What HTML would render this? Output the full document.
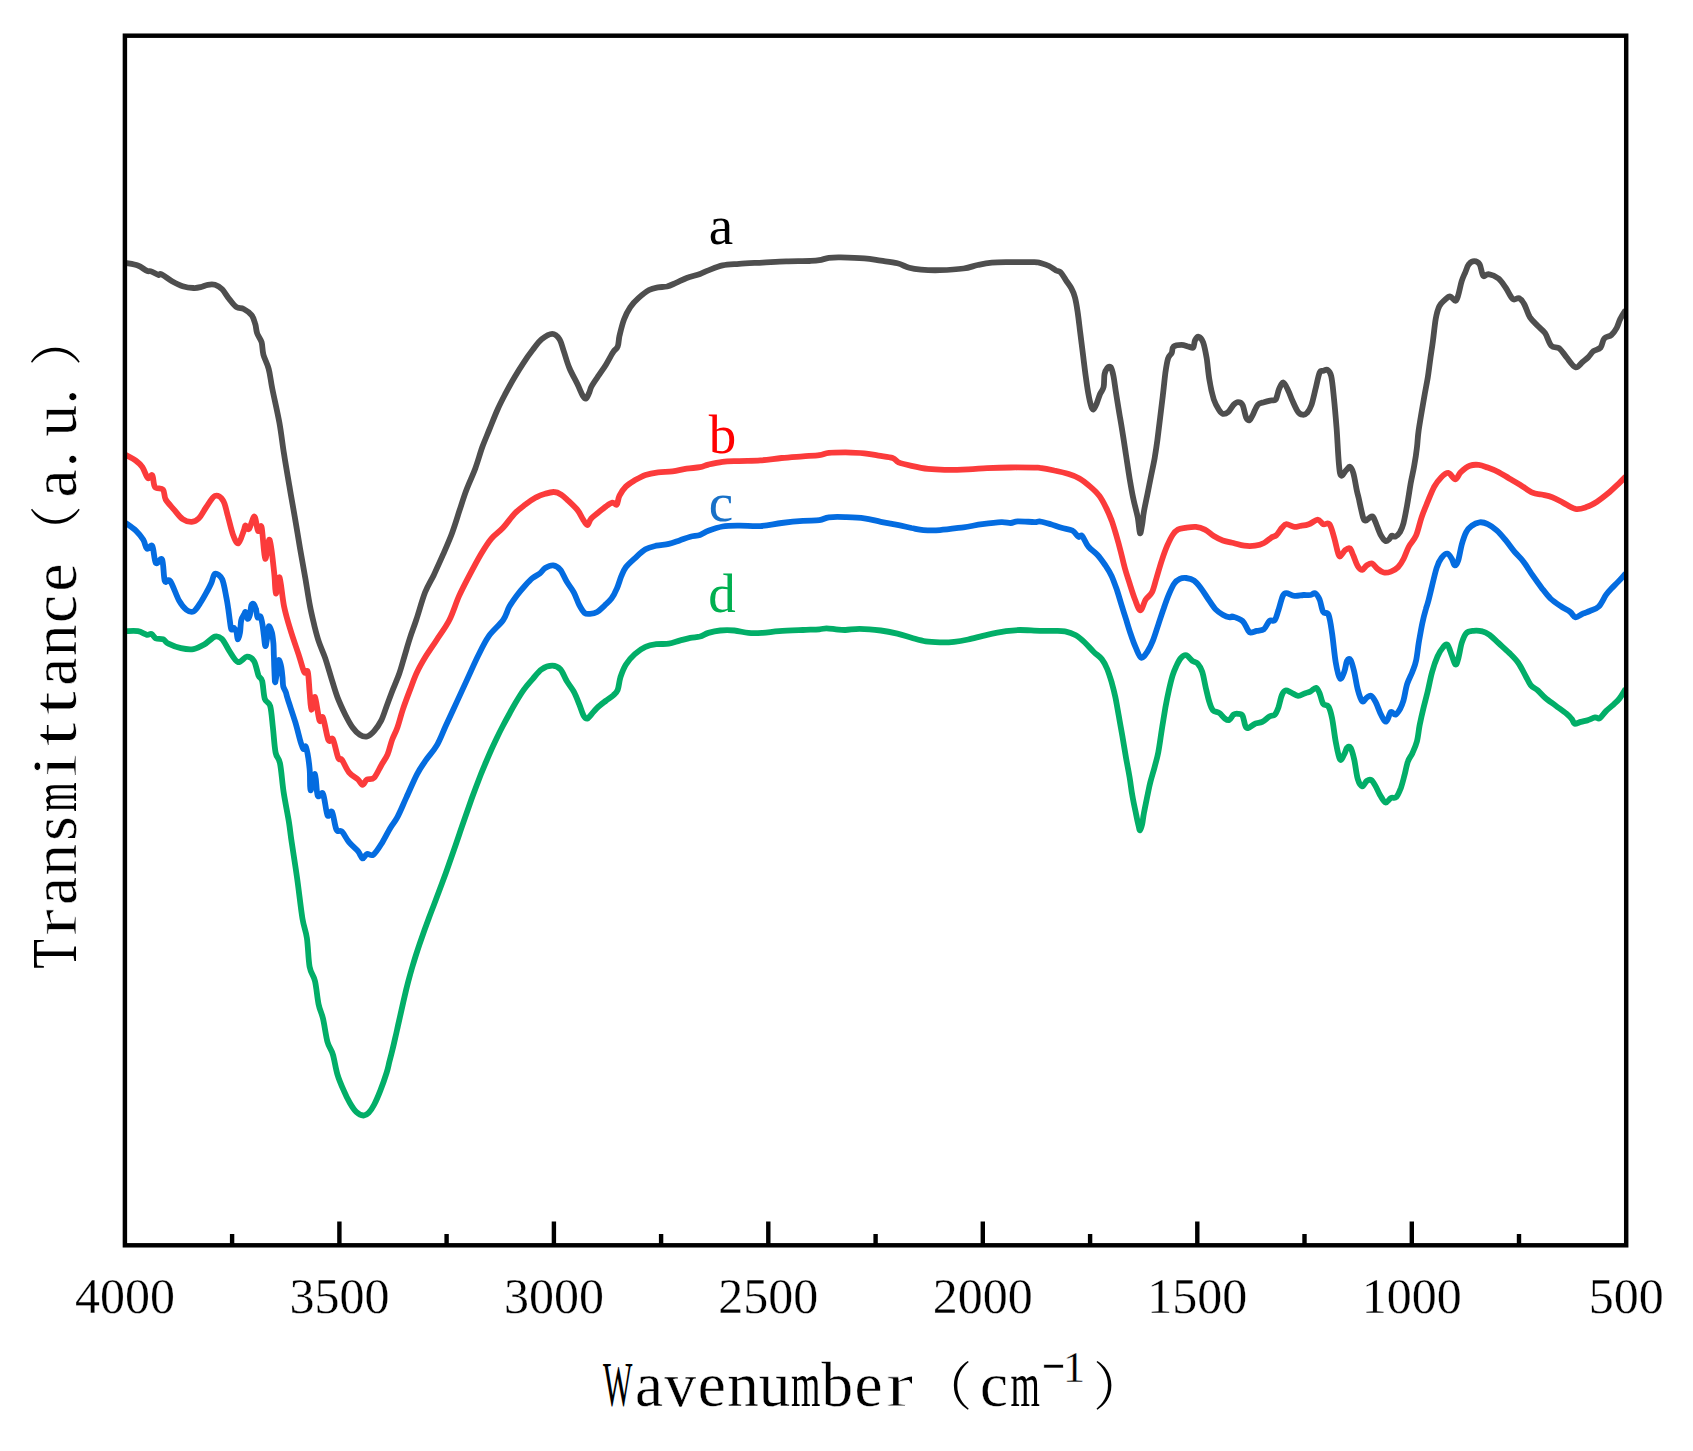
<!DOCTYPE html>
<html><head><meta charset="utf-8"><title>FTIR spectra</title>
<style>html,body{margin:0;padding:0;background:#fff}svg{display:block}</style></head>
<body>
<svg width="1693" height="1451" viewBox="0 0 1693 1451">
<rect width="1693" height="1451" fill="#fff"/>
<path d="M125.4 262.9 C127.5 263.4 134.3 264.3 137.9 265.6 C141.5 266.9 144.6 269.9 146.9 270.8 C149.1 271.8 149.4 270.7 151.4 271.4 C153.3 272.0 156.9 274.5 158.5 274.9 C160.2 275.4 159.0 273.0 161.2 274.1 C163.5 275.1 168.4 279.2 172.0 281.2 C175.6 283.2 179.1 285.1 182.7 286.2 C186.3 287.4 190.5 287.9 193.5 288.0 C196.5 288.2 198.3 287.7 200.6 287.1 C203.0 286.6 205.4 285.2 207.8 284.8 C210.2 284.4 212.6 284.1 215.0 284.8 C217.4 285.5 219.8 286.9 222.2 289.3 C224.5 291.7 226.9 296.2 229.3 299.1 C231.7 302.1 234.1 305.6 236.5 307.2 C238.9 308.8 241.1 307.7 243.7 309.0 C246.2 310.3 249.8 312.7 251.7 315.3 C253.7 317.8 254.4 321.2 255.3 324.2 C256.2 327.2 256.1 330.2 257.1 333.2 C258.1 336.2 260.5 338.6 261.6 342.2 C262.6 345.7 262.2 350.2 263.4 354.7 C264.6 359.2 267.3 363.4 268.7 369.0 C270.2 374.7 270.5 379.7 272.3 388.7 C274.1 397.8 277.6 412.5 279.5 423.3 C281.4 434.1 282.3 443.3 284.0 453.8 C285.6 464.2 287.6 475.6 289.4 486.0 C291.1 496.5 292.9 506.0 294.7 516.5 C296.5 526.9 298.3 538.3 300.1 548.7 C301.9 559.2 303.8 569.7 305.5 579.2 C307.1 588.8 308.5 598.3 310.0 606.1 C311.5 613.9 313.0 619.8 314.4 625.8 C315.9 631.8 317.1 636.6 318.9 641.9 C320.7 647.3 323.2 652.2 325.2 658.1 C327.2 664.0 329.1 670.8 331.1 677.3 C333.1 683.8 335.0 690.8 337.4 697.1 C339.8 703.3 342.9 709.9 345.4 715.0 C348.0 720.1 350.2 724.2 352.6 727.5 C355.0 730.8 357.4 733.2 359.8 734.7 C362.2 736.2 364.6 737.1 367.0 736.5 C369.3 735.9 371.7 733.8 374.1 731.1 C376.5 728.4 379.2 724.5 381.3 720.4 C383.4 716.2 384.9 710.8 386.7 706.0 C388.5 701.2 390.0 697.1 392.0 691.7 C394.1 686.3 397.1 679.7 399.2 673.8 C401.3 667.8 402.8 661.8 404.6 655.8 C406.4 649.9 408.0 643.9 410.0 637.9 C411.9 631.9 413.7 627.6 416.2 620.0 C418.8 612.4 422.1 599.9 425.1 592.3 C428.1 584.7 431.1 580.7 434.1 574.4 C437.0 568.1 440.0 561.6 443.0 554.7 C446.0 547.8 449.3 540.4 452.0 533.2 C454.7 526.0 456.8 518.9 459.1 511.7 C461.5 504.5 463.6 497.4 466.3 490.2 C469.0 483.0 472.6 475.6 475.3 468.4 C478.0 461.1 480.0 453.4 482.4 446.8 C484.8 440.3 487.1 435.2 489.6 428.9 C492.1 422.7 495.0 415.2 497.7 409.2 C500.4 403.2 502.9 398.5 505.7 393.1 C508.6 387.7 511.7 382.0 514.7 377.0 C517.7 371.9 520.7 367.1 523.7 362.6 C526.6 358.1 529.6 354.0 532.6 350.1 C535.6 346.2 538.3 342.0 541.6 339.3 C544.9 336.6 549.3 333.9 552.3 333.9 C555.3 333.9 557.6 336.3 559.5 339.3 C561.4 342.3 562.3 347.1 564.0 351.9 C565.6 356.6 567.1 362.6 569.4 368.0 C571.6 373.4 575.2 379.5 577.4 384.1 C579.7 388.8 581.4 393.4 582.8 395.8 C584.2 398.2 585.0 398.9 586.0 398.5 C587.1 398.0 588.1 395.2 589.1 393.1 C590.0 391.0 590.1 388.9 591.8 385.9 C593.4 382.9 596.5 378.7 598.9 375.2 C601.3 371.6 603.7 368.3 606.1 364.4 C608.5 360.5 611.3 354.9 613.3 351.9 C615.2 348.9 616.7 349.2 617.7 346.5 C618.8 343.8 618.5 340.2 619.5 335.7 C620.6 331.3 622.2 324.4 624.0 319.6 C625.8 314.8 627.9 310.6 630.3 307.1 C632.7 303.5 635.2 300.9 638.4 298.1 C641.5 295.3 645.8 291.8 649.1 290.0 C652.4 288.2 655.1 287.9 658.1 287.3 C661.1 286.8 664.0 287.2 667.0 286.5 C670.0 285.7 672.7 284.3 676.0 282.9 C679.3 281.5 682.7 279.5 686.7 278.0 C690.7 276.5 696.4 275.2 700.0 273.9 C703.6 272.6 704.6 271.8 708.4 270.4 C712.1 269.0 717.4 266.5 722.5 265.4 C727.6 264.3 732.4 264.3 739.1 263.8 C745.8 263.3 754.8 263.0 762.7 262.6 C770.6 262.2 778.4 261.7 786.3 261.4 C794.2 261.2 804.4 261.2 809.9 261.0 C815.5 260.8 816.2 260.8 819.4 260.2 C822.5 259.7 825.3 258.4 828.8 257.9 C832.4 257.4 834.8 257.3 840.7 257.4 C846.6 257.5 857.6 257.8 864.3 258.4 C871.0 258.9 875.3 259.9 880.8 260.7 C886.3 261.5 892.6 262.1 897.4 263.3 C902.1 264.5 905.2 266.7 909.2 267.8 C913.1 268.9 915.9 269.3 921.0 269.7 C926.1 270.1 932.8 270.4 939.9 270.2 C947.0 270.0 957.2 269.4 963.5 268.5 C969.8 267.7 973.0 266.0 977.7 265.0 C982.4 264.0 986.4 263.1 991.9 262.6 C997.4 262.1 1003.7 262.2 1010.8 262.1 C1017.9 262.1 1029.5 262.0 1034.4 262.1 C1039.3 262.3 1037.6 262.3 1040.0 262.9 C1042.4 263.6 1046.3 264.7 1049.0 266.0 C1051.6 267.2 1054.2 269.4 1056.1 270.5 C1058.1 271.5 1059.0 270.6 1060.6 272.3 C1062.3 273.9 1064.2 277.6 1066.0 280.3 C1067.8 283.0 1069.9 285.5 1071.4 288.4 C1072.9 291.2 1073.9 293.5 1074.9 297.3 C1076.0 301.2 1076.7 305.7 1077.6 311.7 C1078.5 317.7 1079.4 326.0 1080.3 333.2 C1081.2 340.4 1082.1 347.5 1083.0 354.7 C1083.9 361.9 1084.8 369.6 1085.7 376.2 C1086.6 382.8 1087.5 389.2 1088.4 394.1 C1089.3 399.1 1090.2 403.2 1091.1 405.8 C1091.9 408.3 1092.5 409.7 1093.4 409.4 C1094.3 409.1 1095.3 406.5 1096.5 404.0 C1097.6 401.4 1098.8 397.0 1100.0 394.1 C1101.2 391.3 1102.9 390.2 1103.6 387.0 C1104.4 383.7 1103.9 377.5 1104.5 374.4 C1105.1 371.3 1106.2 369.3 1107.2 368.1 C1108.2 366.9 1109.7 365.9 1110.8 367.2 C1111.8 368.6 1112.6 371.7 1113.5 376.2 C1114.4 380.7 1115.1 387.6 1116.2 394.1 C1117.2 400.7 1118.7 409.4 1119.7 415.6 C1120.8 421.9 1121.4 425.2 1122.4 431.8 C1123.5 438.3 1124.8 447.3 1126.0 455.1 C1127.2 462.8 1128.4 471.2 1129.6 478.4 C1130.8 485.5 1131.8 491.6 1133.2 498.1 C1134.5 504.5 1136.5 511.2 1137.7 517.1 C1138.8 522.9 1139.3 532.0 1140.0 533.2 C1140.7 534.4 1141.5 527.8 1142.2 524.2 C1142.8 520.6 1143.0 516.8 1143.9 511.7 C1144.8 506.6 1146.3 499.7 1147.5 493.8 C1148.7 487.8 1149.9 481.8 1151.1 475.8 C1152.3 469.9 1153.6 463.9 1154.7 457.9 C1155.7 451.9 1156.0 450.3 1157.4 440.0 C1158.7 429.7 1161.4 407.1 1162.8 395.9 C1164.1 384.7 1164.6 378.9 1165.4 372.6 C1166.3 366.3 1167.1 361.6 1168.1 358.3 C1169.2 355.0 1170.8 354.8 1171.7 352.9 C1172.6 351.0 1171.9 348.0 1173.5 346.6 C1175.2 345.3 1179.0 344.8 1181.6 344.8 C1184.1 344.8 1186.8 346.2 1188.7 346.6 C1190.7 347.1 1192.2 348.6 1193.2 347.5 C1194.3 346.5 1194.1 342.2 1195.0 340.4 C1195.9 338.6 1197.3 336.5 1198.6 336.8 C1199.9 337.1 1201.7 338.6 1203.1 342.2 C1204.4 345.7 1205.6 352.0 1206.7 358.3 C1207.7 364.6 1208.2 372.9 1209.4 379.8 C1210.5 386.7 1212.2 394.4 1213.8 399.5 C1215.5 404.6 1217.7 407.9 1219.2 410.3 C1220.7 412.6 1221.3 413.5 1222.8 413.8 C1224.3 414.1 1226.4 413.5 1228.2 412.0 C1230.0 410.5 1231.9 406.5 1233.5 404.9 C1235.2 403.2 1236.5 402.2 1238.0 402.2 C1239.5 402.2 1241.2 402.3 1242.5 404.9 C1243.9 407.4 1244.9 414.9 1246.1 417.4 C1247.3 420.0 1248.5 420.7 1249.7 420.1 C1250.9 419.5 1251.9 416.4 1253.3 413.8 C1254.6 411.3 1255.9 406.8 1257.7 404.9 C1259.5 402.9 1261.8 402.9 1264.0 402.2 C1266.3 401.4 1269.2 400.8 1271.2 400.4 C1273.1 399.9 1274.3 401.4 1275.7 399.5 C1277.0 397.6 1278.0 391.6 1279.2 388.7 C1280.5 385.9 1281.9 382.2 1283.4 382.5 C1284.9 382.8 1286.7 387.4 1288.2 390.5 C1289.8 393.7 1291.0 397.7 1292.7 401.3 C1294.3 404.9 1296.4 409.8 1298.1 412.0 C1299.7 414.3 1301.1 414.6 1302.5 414.7 C1304.0 414.9 1305.5 414.6 1307.0 412.9 C1308.5 411.3 1310.0 409.2 1311.5 404.9 C1313.0 400.5 1314.6 392.3 1316.0 387.0 C1317.3 381.6 1318.4 375.3 1319.6 372.6 C1320.8 369.9 1321.8 371.3 1323.2 370.8 C1324.5 370.4 1326.3 369.0 1327.6 369.9 C1329.0 370.8 1330.2 371.6 1331.2 376.2 C1332.3 380.8 1333.0 389.0 1333.9 397.7 C1334.8 406.4 1335.6 415.6 1336.6 428.2 C1337.6 440.7 1338.4 466.0 1340.0 473.0 C1341.6 480.0 1344.5 471.3 1346.1 470.3 C1347.7 469.2 1348.5 466.3 1349.7 466.7 C1350.9 467.2 1352.1 468.9 1353.3 473.0 C1354.5 477.0 1356.0 486.7 1356.9 490.9 C1357.8 495.1 1357.6 493.6 1358.7 498.1 C1359.7 502.6 1362.0 514.1 1363.2 517.8 C1364.3 521.6 1364.8 520.5 1365.8 520.5 C1366.9 520.5 1368.2 518.4 1369.4 517.8 C1370.6 517.2 1371.8 515.7 1373.0 516.9 C1374.2 518.1 1375.3 521.8 1376.6 525.0 C1377.9 528.1 1379.6 533.0 1381.1 535.7 C1382.6 538.4 1384.2 540.5 1385.6 541.1 C1386.9 541.7 1388.1 540.2 1389.1 539.3 C1390.2 538.4 1390.8 536.2 1391.8 535.7 C1392.9 535.3 1394.1 537.2 1395.4 536.6 C1396.8 536.0 1398.5 534.4 1399.9 532.2 C1401.2 529.9 1402.3 527.7 1403.5 523.2 C1404.7 518.7 1405.9 511.8 1407.1 505.3 C1408.3 498.7 1409.5 490.3 1410.6 483.8 C1411.8 477.2 1413.2 471.8 1414.2 465.8 C1415.3 459.9 1416.2 453.9 1416.9 447.9 C1417.7 441.9 1417.5 438.4 1418.7 430.0 C1419.9 421.6 1422.6 406.4 1424.1 397.7 C1425.6 389.0 1426.6 384.6 1427.7 378.0 C1428.7 371.4 1429.5 364.6 1430.4 358.3 C1431.3 352.0 1432.2 346.9 1433.0 340.4 C1433.9 333.8 1434.7 324.5 1435.7 318.9 C1436.8 313.2 1437.8 309.4 1439.3 306.3 C1440.8 303.2 1442.9 301.7 1444.7 300.0 C1446.5 298.4 1448.3 296.3 1450.1 296.5 C1451.9 296.6 1454.1 301.1 1455.4 300.9 C1456.8 300.8 1457.1 298.8 1458.1 295.6 C1459.2 292.3 1460.5 285.1 1461.7 281.2 C1462.9 277.3 1464.1 275.1 1465.3 272.3 C1466.5 269.4 1467.4 266.0 1468.9 264.2 C1470.4 262.3 1472.5 261.1 1474.3 261.1 C1476.1 261.1 1478.1 261.7 1479.6 264.2 C1481.1 266.6 1481.7 274.2 1483.2 275.8 C1484.7 277.5 1486.1 273.6 1488.6 274.1 C1491.1 274.5 1495.6 276.3 1498.5 278.5 C1501.3 280.8 1503.2 284.1 1505.6 287.5 C1508.0 290.9 1510.6 297.3 1512.8 299.1 C1515.0 300.9 1517.1 297.3 1519.1 298.2 C1521.0 299.1 1522.7 301.4 1524.4 304.5 C1526.2 307.7 1527.6 313.5 1529.8 317.1 C1532.1 320.6 1535.3 323.3 1537.9 326.0 C1540.4 328.7 1542.8 329.9 1545.1 333.2 C1547.3 336.5 1548.9 343.2 1551.3 345.7 C1553.7 348.3 1556.9 346.5 1559.4 348.4 C1561.9 350.4 1563.9 354.2 1566.6 357.4 C1569.2 360.5 1572.8 366.5 1575.5 367.2 C1578.2 368.0 1580.6 363.5 1582.7 361.9 C1584.8 360.2 1586.3 359.2 1588.1 357.4 C1589.9 355.6 1591.4 352.8 1593.4 351.1 C1595.5 349.5 1598.8 349.6 1600.6 347.5 C1602.4 345.4 1602.4 340.7 1604.2 338.6 C1606.0 336.5 1609.3 336.8 1611.4 335.0 C1613.5 333.2 1615.2 330.5 1616.7 327.8 C1618.2 325.1 1618.8 321.8 1620.3 318.9 C1621.8 315.9 1624.8 311.4 1625.7 309.9" fill="none" stroke="#4E4E4E" stroke-width="5.8" stroke-linejoin="round" stroke-linecap="butt"/>
<path d="M125.4 454.7 C127.2 455.7 133.3 458.8 136.1 460.9 C139.0 463.0 140.5 464.4 142.4 467.2 C144.3 470.0 146.1 476.6 147.8 478.0 C149.4 479.3 151.1 473.8 152.3 475.3 C153.5 476.8 153.2 484.5 154.9 486.9 C156.7 489.3 161.2 487.5 163.0 489.6 C164.8 491.7 163.9 496.2 165.7 499.5 C167.5 502.7 170.9 506.0 173.8 509.3 C176.6 512.6 179.7 517.1 182.7 519.2 C185.7 521.3 189.0 522.0 191.7 521.9 C194.4 521.7 196.5 520.7 198.9 518.3 C201.2 515.9 203.3 511.3 206.0 507.5 C208.7 503.8 212.1 497.1 215.0 495.9 C217.8 494.7 221.0 497.2 223.0 500.4 C225.1 503.5 225.9 509.0 227.5 514.7 C229.2 520.4 231.1 529.6 232.9 534.4 C234.7 539.2 236.5 544.0 238.3 543.4 C240.1 542.8 242.5 533.8 243.7 530.8 C244.9 527.8 244.6 525.7 245.4 525.4 C246.3 525.1 247.5 530.5 249.0 529.0 C250.5 527.5 252.9 516.2 254.4 516.5 C255.9 516.8 256.8 529.0 258.0 530.8 C259.2 532.6 260.4 522.6 261.6 527.2 C262.8 531.9 263.8 556.5 265.2 558.6 C266.5 560.7 268.1 537.5 269.6 539.8 C271.1 542.0 273.1 563.1 274.1 572.0 C275.2 581.0 275.0 592.7 275.9 593.5 C276.8 594.4 278.2 575.3 279.5 577.4 C280.8 579.5 282.2 597.4 284.0 606.1 C285.8 614.8 287.7 621.0 290.3 629.4 C292.8 637.8 296.9 649.2 299.2 656.3 C301.5 663.4 302.8 669.4 304.2 672.0 C305.7 674.6 306.9 668.7 307.8 672.0 C308.7 675.3 309.0 685.4 309.6 691.7 C310.2 698.0 310.5 708.7 311.4 709.6 C312.3 710.5 313.6 695.3 315.0 697.1 C316.3 698.9 318.1 716.9 319.5 720.4 C320.8 723.8 321.6 714.4 323.0 717.7 C324.5 721.0 326.8 736.5 328.4 740.1 C330.1 743.7 331.3 736.2 332.9 739.2 C334.5 742.2 336.8 754.6 338.3 758.0 C339.8 761.4 340.1 757.4 341.9 759.8 C343.7 762.2 346.3 769.0 349.0 772.3 C351.7 775.6 355.8 777.4 358.0 779.5 C360.2 781.6 361.0 784.9 362.5 784.9 C364.0 784.9 365.0 780.7 367.0 779.5 C368.9 778.3 371.7 780.1 374.1 777.7 C376.5 775.3 379.1 769.0 381.3 765.2 C383.5 761.3 385.8 758.6 387.6 754.4 C389.4 750.2 390.4 744.6 392.0 740.1 C393.7 735.6 395.6 732.6 397.4 727.5 C399.2 722.4 400.7 715.9 402.8 709.6 C404.9 703.3 407.6 696.2 410.0 689.9 C412.4 683.6 414.4 677.6 417.1 672.0 C419.8 666.3 422.8 661.2 426.1 655.8 C429.4 650.5 433.0 645.7 436.8 639.7 C440.7 633.7 445.7 627.3 449.4 620.0 C453.1 612.7 455.7 603.5 459.1 595.9 C462.6 588.3 466.3 581.3 469.9 574.4 C473.5 567.5 477.1 560.7 480.6 554.7 C484.2 548.7 487.7 543.0 491.4 538.6 C495.1 534.1 499.2 532.0 503.0 527.8 C506.9 523.6 511.0 517.4 514.7 513.5 C518.4 509.6 521.9 507.2 525.4 504.5 C529.0 501.8 532.9 499.1 536.2 497.3 C539.5 495.6 542.2 494.7 545.2 493.8 C548.1 492.9 551.4 491.8 554.1 492.0 C556.8 492.1 558.9 493.2 561.3 494.7 C563.7 496.2 565.8 498.4 568.5 500.9 C571.1 503.5 575.0 506.9 577.4 509.9 C579.8 512.9 581.2 516.3 582.8 518.9 C584.4 521.4 585.9 525.1 587.3 525.1 C588.6 525.1 589.2 520.8 590.9 518.9 C592.5 516.9 594.6 515.6 597.1 513.5 C599.7 511.4 603.6 508.1 606.1 506.3 C608.6 504.5 610.6 503.0 612.4 502.7 C614.2 502.4 615.7 505.7 616.8 504.5 C618.0 503.3 618.0 498.5 619.5 495.6 C621.0 492.6 623.3 489.1 625.8 486.6 C628.3 484.1 631.5 482.3 634.8 480.3 C638.1 478.4 641.6 476.3 645.5 474.9 C649.4 473.6 653.6 472.9 658.1 472.3 C662.5 471.7 667.6 472.0 672.4 471.4 C677.2 470.8 682.1 469.4 686.7 468.7 C691.3 468.0 696.4 467.9 700.0 467.2 C703.6 466.6 704.6 465.5 708.4 464.6 C712.1 463.7 717.4 462.4 722.5 461.8 C727.6 461.2 732.8 461.3 739.1 461.1 C745.4 460.8 753.2 460.9 760.3 460.4 C767.4 459.9 774.5 458.7 781.6 458.0 C788.7 457.3 796.6 456.8 802.9 456.3 C809.2 455.9 815.1 455.8 819.4 455.2 C823.7 454.6 824.5 453.3 828.8 452.8 C833.2 452.3 839.5 452.3 845.4 452.3 C851.3 452.4 858.8 452.7 864.3 453.3 C869.8 453.8 873.7 454.9 878.5 455.6 C883.2 456.4 889.3 456.9 892.6 458.0 C896.0 459.1 895.4 461.0 898.5 462.3 C901.7 463.6 906.6 464.7 911.5 465.8 C916.5 466.9 922.6 468.2 928.1 468.9 C933.6 469.5 937.9 469.7 944.6 469.8 C951.3 469.9 961.2 469.6 968.2 469.3 C975.3 469.1 980.1 468.5 987.1 468.2 C994.2 467.8 1002.9 467.5 1010.8 467.5 C1018.6 467.4 1029.5 467.6 1034.4 467.7 C1039.3 467.7 1036.7 467.3 1040.0 467.8 C1043.3 468.2 1049.6 469.4 1054.3 470.5 C1059.1 471.5 1064.5 472.7 1068.7 474.1 C1072.9 475.4 1075.8 476.4 1079.4 478.5 C1083.0 480.6 1086.9 483.8 1090.2 486.6 C1093.5 489.4 1096.5 492.0 1099.1 495.6 C1101.8 499.1 1104.2 503.9 1106.3 508.1 C1108.4 512.3 1110.0 516.2 1111.7 520.6 C1113.3 525.1 1114.7 529.9 1116.2 535.0 C1117.7 540.1 1119.2 545.4 1120.6 551.1 C1122.1 556.8 1123.6 563.7 1125.1 569.0 C1126.6 574.4 1128.0 578.3 1129.6 583.4 C1131.2 588.4 1133.2 595.0 1135.0 599.5 C1136.8 604.0 1138.6 610.3 1140.4 610.3 C1142.2 610.3 1143.8 602.5 1145.7 599.5 C1147.7 596.5 1150.2 595.9 1152.0 592.3 C1153.8 588.7 1154.8 583.4 1156.5 578.0 C1158.1 572.6 1160.1 565.4 1161.9 560.1 C1163.7 554.7 1165.4 549.9 1167.2 545.7 C1169.0 541.6 1170.8 537.7 1172.6 535.0 C1174.4 532.3 1175.9 530.8 1178.0 529.6 C1180.1 528.4 1182.2 528.3 1185.2 527.8 C1188.1 527.4 1192.6 526.6 1195.9 526.9 C1199.2 527.2 1201.9 528.1 1204.9 529.6 C1207.9 531.1 1210.8 534.1 1213.8 535.9 C1216.8 537.7 1219.5 539.2 1222.8 540.4 C1226.1 541.6 1230.0 542.2 1233.5 543.0 C1237.1 543.9 1240.7 545.3 1244.3 545.7 C1247.9 546.2 1251.8 546.2 1255.1 545.7 C1258.3 545.3 1261.3 544.4 1264.0 543.0 C1266.7 541.7 1269.1 539.0 1271.2 537.7 C1273.3 536.3 1274.8 536.6 1276.6 535.0 C1278.4 533.3 1280.3 529.6 1281.9 527.8 C1283.6 526.0 1284.3 524.4 1286.4 524.2 C1288.5 524.1 1292.2 526.6 1294.5 526.9 C1296.7 527.2 1297.5 526.5 1299.9 526.0 C1302.2 525.6 1305.8 525.3 1308.8 524.2 C1311.8 523.2 1315.4 519.7 1317.8 519.7 C1320.2 519.7 1321.2 523.5 1323.2 524.2 C1325.1 525.0 1327.6 522.1 1329.4 524.2 C1331.2 526.3 1332.6 532.3 1333.9 536.8 C1335.3 541.3 1336.5 547.8 1337.5 551.1 C1338.5 554.4 1338.7 556.7 1340.0 556.5 C1341.3 556.3 1343.6 551.4 1345.2 550.1 C1346.9 548.7 1348.4 547.4 1349.7 548.3 C1351.1 549.2 1352.0 552.5 1353.3 555.4 C1354.6 558.4 1356.3 563.8 1357.8 566.2 C1359.3 568.6 1360.8 569.9 1362.3 569.8 C1363.8 569.6 1365.1 566.4 1366.7 565.3 C1368.4 564.3 1370.3 562.9 1372.1 563.5 C1373.9 564.1 1375.5 567.4 1377.5 568.9 C1379.4 570.4 1381.5 572.0 1383.8 572.5 C1386.0 572.9 1388.5 572.5 1390.9 571.6 C1393.3 570.7 1396.0 569.2 1398.1 567.1 C1400.2 565.0 1401.7 562.5 1403.5 559.0 C1405.3 555.6 1406.8 550.4 1408.9 546.5 C1410.9 542.6 1413.9 540.5 1416.0 535.7 C1418.1 531.0 1419.5 523.5 1421.4 517.8 C1423.3 512.1 1425.6 506.8 1427.7 501.7 C1429.8 496.6 1431.7 491.4 1433.9 487.3 C1436.2 483.3 1438.7 479.9 1441.1 477.5 C1443.5 475.1 1445.9 472.7 1448.3 473.0 C1450.7 473.3 1453.4 479.4 1455.4 479.3 C1457.5 479.1 1458.4 474.4 1460.8 472.1 C1463.2 469.9 1466.8 467.0 1469.8 465.8 C1472.8 464.6 1475.8 464.6 1478.7 464.9 C1481.7 465.2 1484.4 466.4 1487.7 467.6 C1491.0 468.8 1494.9 470.3 1498.5 472.1 C1502.0 473.9 1505.6 476.3 1509.2 478.4 C1512.8 480.5 1516.1 482.3 1520.0 484.7 C1523.8 487.0 1528.9 491.1 1532.5 492.7 C1536.1 494.4 1538.2 493.8 1541.5 494.5 C1544.8 495.3 1548.6 495.9 1552.2 497.2 C1555.8 498.5 1559.1 500.6 1563.0 502.6 C1566.9 504.5 1571.6 508.1 1575.5 508.9 C1579.4 509.6 1582.7 508.3 1586.3 507.1 C1589.9 505.9 1593.4 503.9 1597.0 501.7 C1600.6 499.4 1604.2 496.6 1607.8 493.6 C1611.4 490.6 1615.5 486.6 1618.5 483.8 C1621.5 480.9 1624.5 477.8 1625.7 476.6" fill="none" stroke="#FB3B3B" stroke-width="5.8" stroke-linejoin="round" stroke-linecap="butt"/>
<path d="M125.4 522.8 C127.2 524.1 133.1 528.0 136.1 530.8 C139.1 533.7 141.5 536.8 143.3 539.8 C145.1 542.8 145.4 547.7 146.9 548.7 C148.4 549.8 150.8 543.7 152.3 546.1 C153.8 548.4 154.2 560.8 155.8 563.1 C157.5 565.3 160.6 556.5 162.1 559.5 C163.6 562.5 163.5 577.4 164.8 581.0 C166.1 584.6 167.8 577.7 170.2 581.0 C172.6 584.3 176.5 595.9 179.1 600.7 C181.8 605.5 183.9 607.9 186.3 609.7 C188.7 611.5 191.1 612.7 193.5 611.5 C195.9 610.3 198.3 606.1 200.6 602.5 C203.0 598.9 206.0 593.2 207.8 590.0 C209.6 586.7 210.2 585.5 211.4 582.8 C212.6 580.1 213.2 574.4 215.0 573.8 C216.8 573.2 220.3 575.3 222.2 579.2 C224.0 583.2 225.4 592.6 226.4 597.6 C227.4 602.5 227.7 605.2 228.3 609.0 C228.8 612.7 229.3 616.9 229.8 620.3 C230.3 623.7 230.6 628.2 231.3 629.4 C232.0 630.7 233.1 627.4 234.0 627.9 C234.8 628.4 236.0 630.6 236.6 632.5 C237.2 634.4 237.2 639.3 237.7 639.3 C238.3 639.3 239.5 635.6 240.0 632.5 C240.6 629.3 240.5 623.4 241.2 620.3 C241.9 617.3 243.4 615.7 244.2 614.3 C244.9 612.9 245.1 611.2 245.7 612.0 C246.3 612.7 246.9 618.3 247.6 618.8 C248.3 619.3 249.2 617.3 249.9 615.0 C250.5 612.7 250.8 607.0 251.4 605.2 C252.0 603.3 252.9 603.4 253.7 604.0 C254.4 604.7 255.3 606.7 255.9 609.0 C256.6 611.2 256.7 616.0 257.5 617.3 C258.2 618.6 259.7 615.4 260.5 616.5 C261.3 617.7 261.8 621.0 262.4 624.1 C263.0 627.3 263.4 631.8 263.9 635.5 C264.4 639.2 264.8 645.9 265.4 646.1 C266.0 646.4 266.7 640.3 267.3 637.0 C267.9 633.7 268.1 627.1 268.8 626.4 C269.6 625.6 271.1 629.7 271.9 632.5 C272.6 635.2 273.0 639.4 273.4 643.1 C273.7 646.7 273.7 650.7 273.8 654.4 C274.0 658.2 274.1 662.0 274.2 665.8 C274.4 669.6 274.5 674.5 274.7 677.2 C274.8 679.9 274.9 682.7 275.3 682.1 C275.6 681.5 276.3 676.7 276.8 673.4 C277.2 670.0 277.5 664.2 277.9 662.0 C278.4 659.9 278.9 659.6 279.4 660.5 C280.0 661.4 280.8 664.6 281.3 667.3 C281.8 670.1 282.2 674.0 282.5 677.2 C282.8 680.3 282.7 683.8 283.2 686.3 C283.8 688.8 285.1 690.2 285.9 692.4 C286.6 694.5 286.2 694.2 287.8 699.2 C289.3 704.1 293.1 715.0 295.3 722.2 C297.4 729.3 299.3 737.4 300.6 741.9 C302.0 746.3 302.4 748.1 303.3 749.0 C304.2 749.9 305.0 744.0 306.0 747.2 C307.1 750.5 308.9 761.6 309.6 768.7 C310.4 775.9 309.6 789.4 310.5 790.3 C311.4 791.1 313.8 773.2 315.0 774.1 C316.2 775.0 316.3 792.3 317.7 795.6 C319.0 798.9 321.4 790.5 323.0 793.8 C324.7 797.1 326.0 812.4 327.5 815.3 C329.0 818.3 330.5 809.4 332.0 811.8 C333.5 814.1 334.8 826.4 336.5 829.7 C338.1 833.0 339.8 829.4 341.9 831.5 C344.0 833.6 346.3 838.9 349.0 842.2 C351.7 845.5 355.8 848.5 358.0 851.2 C360.2 853.9 361.0 857.9 362.5 858.4 C364.0 858.8 365.2 854.5 367.0 853.9 C368.7 853.3 370.8 856.4 373.2 854.8 C375.6 853.1 378.5 848.5 381.3 844.0 C384.1 839.5 387.6 832.4 390.3 827.9 C392.9 823.4 394.7 822.2 397.4 817.1 C400.1 812.1 403.1 804.6 406.4 797.4 C409.7 790.3 413.8 780.4 417.1 774.1 C420.4 767.8 422.8 764.6 426.1 759.8 C429.4 755.0 433.6 751.1 436.8 745.4 C440.1 739.8 442.5 732.9 445.8 725.7 C449.1 718.6 453.0 710.2 456.6 702.4 C460.1 694.7 463.7 686.9 467.3 679.1 C470.9 671.4 474.5 663.0 478.1 655.8 C481.6 648.7 484.6 642.1 488.8 636.1 C493.0 630.2 499.7 624.9 503.2 620.0 C506.6 615.1 507.1 610.7 509.3 606.7 C511.5 602.7 513.8 599.5 516.5 595.9 C519.2 592.3 522.8 588.1 525.4 585.2 C528.1 582.2 530.2 579.9 532.6 578.0 C535.0 576.1 537.7 575.2 539.8 573.5 C541.9 571.9 542.9 569.5 545.2 568.1 C547.4 566.8 550.7 565.1 553.2 565.4 C555.8 565.7 558.2 567.2 560.4 569.9 C562.6 572.6 564.4 577.8 566.7 581.6 C568.9 585.3 571.7 588.4 573.8 592.3 C575.9 596.2 577.4 601.4 579.2 604.9 C581.0 608.3 582.8 611.4 584.6 612.9 C586.4 614.4 587.9 614.0 590.0 613.8 C592.1 613.7 594.7 613.4 597.1 612.0 C599.5 610.7 601.9 608.0 604.3 605.8 C606.7 603.5 609.4 601.4 611.5 598.6 C613.6 595.8 615.2 592.5 616.8 588.7 C618.5 585.0 619.8 579.8 621.3 576.2 C622.8 572.6 623.6 570.2 625.8 567.2 C628.0 564.3 631.5 561.3 634.8 558.3 C638.1 555.3 641.9 551.4 645.5 549.3 C649.1 547.2 652.4 546.6 656.3 545.7 C660.2 544.8 664.9 544.8 668.8 543.9 C672.7 543.0 676.0 541.6 679.6 540.4 C683.2 539.2 686.9 537.7 690.3 536.8 C693.7 535.9 697.0 536.0 700.0 535.0 C703.0 534.0 704.6 532.2 708.4 530.8 C712.1 529.4 717.4 527.4 722.5 526.5 C727.6 525.7 732.8 525.7 739.1 525.6 C745.4 525.5 753.2 526.5 760.3 526.1 C767.4 525.6 774.5 523.9 781.6 523.0 C788.7 522.1 796.6 521.3 802.9 520.9 C809.2 520.4 815.1 520.8 819.4 520.2 C823.7 519.6 824.5 517.8 828.8 517.3 C833.2 516.8 839.5 516.9 845.4 517.1 C851.3 517.3 858.4 517.5 864.3 518.3 C870.2 519.1 875.3 520.7 880.8 521.8 C886.3 522.9 892.2 523.9 897.4 524.9 C902.5 525.9 907.2 527.1 911.5 528.0 C915.9 528.8 918.6 529.7 923.4 530.1 C928.1 530.4 933.2 530.6 939.9 530.1 C946.6 529.6 956.4 528.2 963.5 527.3 C970.6 526.3 976.1 525.0 982.4 524.2 C988.7 523.3 996.6 522.3 1001.3 522.1 C1006.0 521.9 1008.0 523.1 1010.8 523.0 C1013.5 522.9 1013.9 521.5 1017.9 521.3 C1021.8 521.2 1030.7 522.0 1034.4 522.1 C1038.1 522.1 1037.3 521.2 1040.0 521.5 C1042.7 521.9 1047.2 523.2 1050.8 524.2 C1054.3 525.3 1057.9 526.8 1061.5 527.8 C1065.1 528.9 1069.4 529.0 1072.3 530.5 C1075.1 532.0 1076.9 535.9 1078.5 536.8 C1080.2 537.7 1080.5 534.2 1082.1 535.9 C1083.8 537.5 1085.8 543.5 1088.4 546.6 C1090.9 549.8 1094.5 551.6 1097.3 554.7 C1100.2 557.8 1103.0 561.9 1105.4 565.4 C1107.8 569.0 1109.7 572.0 1111.7 576.2 C1113.6 580.4 1115.4 585.8 1117.1 590.5 C1118.7 595.3 1120.0 600.1 1121.5 604.9 C1123.0 609.7 1124.5 614.4 1126.0 619.2 C1127.5 624.0 1128.9 628.8 1130.5 633.5 C1132.1 638.3 1134.1 643.9 1135.9 647.9 C1137.7 651.9 1139.3 657.1 1141.3 657.7 C1143.2 658.3 1145.6 654.3 1147.5 651.5 C1149.5 648.6 1151.1 645.2 1152.9 640.7 C1154.7 636.2 1156.5 630.0 1158.3 624.6 C1160.1 619.2 1161.9 613.5 1163.7 608.5 C1165.4 603.4 1167.2 598.3 1169.0 594.1 C1170.8 589.9 1172.6 585.9 1174.4 583.4 C1176.2 580.8 1177.8 579.8 1179.8 578.9 C1181.7 578.0 1183.7 577.7 1186.1 578.0 C1188.4 578.3 1191.6 578.9 1194.1 580.7 C1196.7 582.5 1198.9 585.6 1201.3 588.7 C1203.7 591.9 1206.1 596.1 1208.5 599.5 C1210.8 602.9 1213.2 606.8 1215.6 609.4 C1218.0 611.9 1220.4 613.4 1222.8 614.7 C1225.2 616.1 1228.3 617.1 1230.0 617.4 C1231.6 617.7 1230.6 615.9 1232.7 616.5 C1234.7 617.1 1240.0 618.8 1242.5 621.0 C1245.0 623.2 1246.5 628.0 1247.9 630.0 C1249.2 631.9 1249.1 632.5 1250.6 632.7 C1252.1 632.8 1254.6 631.5 1256.8 630.9 C1259.1 630.3 1261.9 630.7 1264.0 629.1 C1266.1 627.4 1267.6 622.5 1269.4 621.0 C1271.2 619.5 1273.3 621.9 1274.8 620.1 C1276.3 618.3 1277.0 614.3 1278.4 610.3 C1279.7 606.2 1281.5 598.8 1282.8 595.9 C1284.2 593.1 1284.5 593.2 1286.4 593.2 C1288.4 593.2 1291.6 595.6 1294.5 595.9 C1297.3 596.2 1300.8 595.2 1303.4 595.0 C1306.1 594.9 1308.7 595.3 1310.6 595.0 C1312.6 594.7 1313.6 592.5 1315.1 593.2 C1316.6 594.0 1318.2 596.4 1319.6 599.5 C1320.9 602.6 1321.7 609.5 1323.2 612.0 C1324.6 614.6 1327.0 611.1 1328.5 614.7 C1330.0 618.3 1330.9 625.6 1332.1 633.5 C1333.3 641.5 1334.4 654.8 1335.7 662.2 C1337.0 669.7 1338.6 676.8 1340.0 678.4 C1341.4 679.9 1343.2 674.6 1344.3 671.7 C1345.5 668.8 1346.0 662.9 1347.0 660.9 C1348.1 659.0 1349.4 658.2 1350.6 660.0 C1351.8 661.8 1353.0 666.8 1354.2 671.7 C1355.4 676.6 1356.4 684.7 1357.8 689.6 C1359.1 694.5 1360.8 699.9 1362.3 701.3 C1363.8 702.6 1365.2 698.6 1366.7 697.7 C1368.2 696.8 1369.7 695.1 1371.2 695.9 C1372.7 696.6 1374.2 699.3 1375.7 702.2 C1377.2 705.0 1378.7 709.8 1380.2 712.9 C1381.7 716.0 1383.5 719.8 1384.7 721.0 C1385.9 722.2 1386.3 721.6 1387.3 720.1 C1388.4 718.6 1389.6 712.9 1390.9 712.0 C1392.3 711.1 1393.9 715.1 1395.4 714.7 C1396.9 714.2 1398.5 711.7 1399.9 709.3 C1401.2 706.9 1402.3 704.5 1403.5 700.4 C1404.7 696.2 1405.6 689.0 1407.1 684.2 C1408.6 679.5 1410.9 675.6 1412.4 671.7 C1413.9 667.8 1415.0 665.7 1416.0 660.9 C1417.1 656.2 1417.7 649.3 1418.7 643.0 C1419.8 636.7 1421.1 629.0 1422.3 623.3 C1423.5 617.6 1424.8 612.8 1425.9 609.0 C1426.9 605.1 1426.8 606.8 1428.6 600.0 C1430.4 593.2 1434.4 575.1 1436.6 568.0 C1438.9 560.9 1440.2 559.6 1442.0 557.2 C1443.8 554.9 1445.7 553.4 1447.4 553.7 C1449.0 554.0 1450.7 557.1 1451.9 559.0 C1453.1 561.0 1453.5 565.0 1454.6 565.3 C1455.6 565.6 1456.9 564.3 1458.1 560.8 C1459.3 557.4 1460.4 549.5 1461.7 544.7 C1463.1 539.9 1464.6 535.3 1466.2 532.2 C1467.8 529.0 1469.3 527.5 1471.6 525.9 C1473.8 524.2 1477.0 522.6 1479.6 522.3 C1482.3 522.0 1484.9 522.7 1487.7 524.1 C1490.5 525.4 1493.7 527.7 1496.7 530.4 C1499.7 533.0 1502.6 536.6 1505.6 540.2 C1508.6 543.8 1511.6 548.3 1514.6 551.9 C1517.6 555.4 1520.6 557.8 1523.5 561.7 C1526.5 565.6 1529.5 570.8 1532.5 575.2 C1535.5 579.5 1538.5 583.8 1541.5 587.7 C1544.5 591.6 1547.1 595.3 1550.4 598.5 C1553.7 601.6 1557.9 604.3 1561.2 606.5 C1564.5 608.8 1567.8 610.1 1570.1 611.9 C1572.5 613.7 1573.4 617.0 1575.5 617.3 C1577.6 617.6 1580.3 614.7 1582.7 613.7 C1585.1 612.6 1587.2 612.2 1589.9 611.0 C1592.5 609.8 1596.1 609.2 1598.8 606.5 C1601.5 603.8 1603.9 597.9 1606.0 594.9 C1608.1 591.9 1609.3 590.8 1611.4 588.6 C1613.5 586.4 1616.1 584.0 1618.5 581.4 C1620.9 578.9 1624.5 574.7 1625.7 573.4" fill="none" stroke="#046CE0" stroke-width="5.8" stroke-linejoin="round" stroke-linecap="butt"/>
<path d="M125.4 631.2 C127.5 631.2 134.3 630.6 137.9 631.2 C141.5 631.8 144.6 634.3 146.9 634.8 C149.1 635.2 149.9 633.3 151.4 633.9 C152.9 634.5 153.9 637.5 155.8 638.4 C157.8 639.2 160.9 638.4 163.0 639.2 C165.1 640.1 165.4 642.2 168.4 643.7 C171.4 645.2 176.8 647.3 180.9 648.2 C185.1 649.1 189.6 649.7 193.5 649.1 C197.4 648.5 200.6 646.7 204.2 644.6 C207.8 642.5 212.0 637.5 215.0 636.6 C218.0 635.7 219.8 636.9 222.2 639.2 C224.5 641.6 226.7 647.1 229.3 650.9 C231.9 654.7 235.0 661.1 237.9 662.1 C240.8 663.1 244.2 656.9 246.9 656.7 C249.6 656.6 252.1 658.1 254.1 661.2 C256.0 664.4 257.2 672.3 258.5 675.6 C259.9 678.8 261.1 677.0 262.1 680.9 C263.2 684.8 263.5 694.7 264.8 698.9 C266.1 703.0 268.8 701.2 270.2 706.0 C271.5 710.8 272.0 719.8 272.9 727.5 C273.8 735.3 274.4 746.6 275.6 752.6 C276.8 758.6 278.7 756.8 280.0 763.4 C281.4 769.9 282.1 782.2 283.6 792.0 C285.1 801.9 287.7 814.1 289.0 822.5 C290.3 830.9 290.3 833.0 291.7 842.2 C293.0 851.5 295.3 865.4 297.1 878.1 C298.9 890.8 300.8 908.4 302.4 918.4 C304.1 928.4 305.7 930.0 306.9 938.1 C308.1 946.2 308.3 959.6 309.6 966.8 C310.9 973.9 313.5 974.8 315.0 981.1 C316.5 987.4 317.2 998.1 318.6 1004.4 C319.9 1010.7 321.6 1012.5 323.0 1018.7 C324.5 1025.0 325.9 1036.1 327.5 1042.0 C329.2 1048.0 331.3 1049.2 332.9 1054.6 C334.5 1060.0 335.6 1068.3 337.4 1074.3 C339.2 1080.3 341.6 1085.7 343.7 1090.4 C345.7 1095.2 347.8 1099.4 349.9 1103.0 C352.0 1106.6 354.0 1109.8 356.2 1111.9 C358.4 1114.0 361.3 1115.4 363.4 1115.5 C365.5 1115.7 367.0 1114.6 368.7 1112.8 C370.5 1111.0 372.2 1108.5 374.1 1104.8 C376.1 1101.0 378.3 1095.8 380.4 1090.4 C382.5 1085.1 385.2 1077.2 386.7 1072.5 C388.2 1067.8 388.4 1065.8 389.3 1062.0 C390.3 1058.2 391.4 1054.0 392.4 1050.0 C393.4 1046.0 394.3 1042.0 395.2 1038.0 C396.2 1034.0 397.0 1030.0 397.9 1026.0 C398.8 1022.0 399.7 1018.0 400.6 1014.0 C401.5 1010.0 402.4 1006.0 403.3 1002.0 C404.2 998.0 405.2 994.0 406.1 990.0 C407.1 986.0 408.1 982.0 409.2 978.0 C410.3 974.0 411.4 970.0 412.6 966.0 C413.8 962.0 415.0 958.0 416.3 954.0 C417.6 950.0 418.9 946.0 420.3 942.0 C421.7 938.0 423.1 934.0 424.5 930.0 C426.0 926.0 427.4 922.0 428.9 918.0 C430.4 914.0 431.9 910.0 433.5 906.0 C435.0 902.0 436.5 898.0 438.0 894.0 C439.5 890.0 441.0 886.0 442.5 882.0 C444.0 878.0 445.5 874.0 446.9 870.0 C448.3 866.0 449.7 862.0 451.1 858.0 C452.5 854.0 453.9 850.0 455.3 846.0 C456.7 842.0 458.0 838.0 459.4 834.0 C460.7 830.0 462.1 826.0 463.5 822.0 C464.9 818.0 466.3 814.0 467.7 810.0 C469.1 806.0 470.5 802.0 471.9 798.0 C473.4 794.0 474.9 790.0 476.4 786.0 C477.9 782.0 479.5 778.0 481.0 774.0 C482.6 770.0 484.3 766.0 486.0 762.0 C487.7 758.0 489.4 754.0 491.2 750.0 C493.0 746.0 494.9 742.0 496.8 738.0 C498.7 734.0 500.7 730.0 502.8 726.0 C504.9 722.0 507.3 717.6 509.3 714.0 C511.2 710.4 512.3 708.2 514.7 704.2 C517.1 700.2 520.7 694.1 523.7 689.9 C526.6 685.7 529.6 682.6 532.6 679.1 C535.6 675.7 538.3 671.5 541.6 669.3 C544.9 667.0 549.2 665.7 552.3 665.7 C555.5 665.7 558.0 666.7 560.4 669.3 C562.8 671.8 564.4 677.2 566.7 680.9 C568.9 684.7 571.7 687.8 573.8 691.7 C575.9 695.6 577.6 700.2 579.2 704.2 C580.9 708.3 582.3 713.5 583.7 715.9 C585.0 718.3 586.1 718.7 587.3 718.6 C588.5 718.4 589.2 716.8 590.9 715.0 C592.5 713.2 594.6 710.2 597.1 707.8 C599.7 705.4 603.4 702.7 606.1 700.6 C608.8 698.6 611.3 697.1 613.3 695.3 C615.2 693.5 616.5 692.9 617.7 689.9 C618.9 686.9 619.1 681.5 620.4 677.3 C621.8 673.2 623.4 668.7 625.8 664.8 C628.2 660.9 631.5 657.0 634.8 654.1 C638.1 651.1 641.9 648.5 645.5 646.9 C649.1 645.2 652.4 644.7 656.3 644.2 C660.2 643.7 664.9 644.3 668.8 643.7 C672.7 643.1 676.0 641.6 679.6 640.6 C683.2 639.7 686.9 638.6 690.3 637.9 C693.7 637.2 697.0 637.3 700.0 636.5 C703.0 635.6 705.0 633.9 708.4 632.9 C711.7 631.9 715.8 630.9 720.2 630.5 C724.5 630.1 729.6 630.1 734.3 630.5 C739.1 630.9 743.8 632.5 748.5 632.9 C753.2 633.3 757.6 633.1 762.7 632.9 C767.8 632.6 772.5 631.7 779.2 631.2 C785.9 630.7 796.2 630.3 802.9 630.0 C809.6 629.7 815.5 629.6 819.4 629.3 C823.3 629.0 823.7 628.4 826.5 628.4 C829.2 628.4 832.8 629.0 835.9 629.3 C839.1 629.6 841.4 630.1 845.4 630.0 C849.3 630.0 853.7 628.8 859.6 628.8 C865.5 628.9 874.5 629.7 880.8 630.5 C887.1 631.3 892.2 632.4 897.4 633.6 C902.5 634.8 906.8 636.5 911.5 637.8 C916.3 639.1 921.0 640.6 925.7 641.4 C930.4 642.1 935.2 642.2 939.9 642.3 C944.6 642.4 949.3 642.3 954.1 641.8 C958.8 641.4 962.7 640.7 968.2 639.5 C973.8 638.3 980.8 636.1 987.1 634.8 C993.4 633.4 1000.5 632.0 1006.0 631.2 C1011.6 630.4 1014.6 630.1 1020.2 630.0 C1025.9 630.0 1034.3 630.7 1040.0 630.8 C1045.7 631.0 1050.2 630.7 1054.3 630.8 C1058.5 630.9 1061.5 630.6 1065.1 631.4 C1068.7 632.1 1072.6 633.5 1075.8 635.3 C1079.1 637.2 1081.8 639.7 1084.8 642.5 C1087.8 645.3 1090.9 649.2 1093.8 652.0 C1096.6 654.7 1099.6 656.3 1101.8 659.1 C1104.1 662.0 1105.6 665.1 1107.2 669.0 C1108.8 672.9 1110.3 677.8 1111.7 682.4 C1113.0 687.1 1114.1 691.1 1115.3 696.8 C1116.5 702.4 1117.7 709.9 1118.9 716.5 C1120.0 723.1 1121.2 729.3 1122.4 736.2 C1123.6 743.1 1124.8 750.8 1126.0 757.7 C1127.2 764.6 1128.6 771.1 1129.6 777.4 C1130.7 783.7 1131.2 789.4 1132.3 795.3 C1133.3 801.3 1134.8 808.2 1135.9 813.3 C1136.9 818.3 1137.9 823.0 1138.6 825.8 C1139.3 828.6 1139.4 830.6 1140.0 830.3 C1140.6 830.0 1141.5 826.9 1142.2 824.0 C1142.8 821.2 1143.0 818.0 1143.9 813.3 C1144.8 808.5 1146.5 800.4 1147.5 795.3 C1148.6 790.3 1149.0 787.6 1150.2 782.8 C1151.4 778.0 1153.4 771.7 1154.7 766.7 C1156.0 761.6 1157.1 758.6 1158.3 752.3 C1159.5 746.1 1160.7 736.5 1161.9 729.0 C1163.1 721.6 1164.3 714.1 1165.4 707.5 C1166.6 701.0 1167.8 695.0 1169.0 689.6 C1170.2 684.2 1171.4 679.2 1172.6 675.3 C1173.8 671.4 1174.9 669.1 1176.2 666.3 C1177.5 663.5 1179.0 660.1 1180.7 658.2 C1182.3 656.4 1184.1 654.7 1186.1 655.2 C1188.0 655.6 1190.4 659.5 1192.3 660.9 C1194.3 662.3 1196.1 661.8 1197.7 663.6 C1199.3 665.4 1200.8 667.7 1202.2 671.7 C1203.5 675.7 1204.6 682.7 1205.8 687.8 C1207.0 692.9 1208.2 698.4 1209.4 702.2 C1210.5 705.9 1211.3 708.4 1212.9 710.2 C1214.6 712.0 1217.3 711.6 1219.2 712.9 C1221.2 714.2 1222.9 717.1 1224.6 718.3 C1226.2 719.5 1227.6 720.7 1229.1 720.1 C1230.6 719.5 1232.1 715.7 1233.5 714.7 C1235.0 713.6 1236.5 713.6 1238.0 713.8 C1239.5 713.9 1241.3 713.6 1242.5 715.6 C1243.7 717.5 1244.3 723.4 1245.2 725.4 C1246.1 727.5 1246.2 728.4 1247.9 728.1 C1249.5 727.8 1252.7 724.7 1255.1 723.7 C1257.4 722.6 1259.8 723.1 1262.2 721.9 C1264.6 720.7 1267.3 717.7 1269.4 716.5 C1271.5 715.3 1273.3 716.2 1274.8 714.7 C1276.3 713.2 1277.2 710.8 1278.4 707.5 C1279.5 704.2 1280.7 697.8 1281.9 695.0 C1283.1 692.1 1284.0 690.9 1285.5 690.5 C1287.0 690.1 1288.8 691.4 1290.9 692.3 C1293.0 693.2 1295.7 695.7 1298.1 695.9 C1300.5 696.0 1303.1 693.9 1305.2 693.2 C1307.3 692.4 1308.8 692.3 1310.6 691.4 C1312.4 690.5 1314.5 687.5 1316.0 687.8 C1317.5 688.1 1318.4 690.5 1319.6 693.2 C1320.8 695.9 1321.7 701.7 1323.2 703.9 C1324.6 706.2 1327.0 704.2 1328.5 706.6 C1330.0 709.0 1330.9 712.5 1332.1 718.3 C1333.3 724.1 1334.4 734.7 1335.7 741.6 C1337.0 748.4 1338.6 757.4 1340.0 759.5 C1341.4 761.6 1343.2 756.1 1344.3 754.1 C1345.5 752.2 1346.0 748.9 1347.0 747.8 C1348.1 746.8 1349.4 745.9 1350.6 747.8 C1351.8 749.8 1353.0 754.3 1354.2 759.5 C1355.4 764.7 1356.4 774.7 1357.8 779.2 C1359.1 783.7 1360.8 786.1 1362.3 786.4 C1363.8 786.7 1365.2 782.0 1366.7 781.0 C1368.2 780.0 1369.7 779.2 1371.2 780.1 C1372.7 781.0 1374.2 783.8 1375.7 786.4 C1377.2 788.9 1378.5 792.7 1380.2 795.3 C1381.8 798.0 1383.8 802.1 1385.6 802.5 C1387.3 803.0 1389.1 798.9 1390.9 798.0 C1392.7 797.1 1394.7 798.8 1396.3 797.1 C1398.0 795.5 1399.4 791.8 1400.8 788.2 C1402.1 784.6 1403.2 780.1 1404.4 775.6 C1405.6 771.1 1406.6 765.0 1408.0 761.3 C1409.3 757.6 1410.9 756.5 1412.4 753.2 C1413.9 749.9 1415.7 746.2 1416.9 741.6 C1418.1 736.9 1418.6 730.8 1419.6 725.4 C1420.7 720.1 1421.8 715.0 1423.2 709.3 C1424.5 703.6 1426.2 697.7 1427.7 691.4 C1429.2 685.1 1430.5 677.5 1432.2 671.7 C1433.8 665.9 1435.7 660.5 1437.5 656.5 C1439.3 652.4 1441.3 649.4 1442.9 647.5 C1444.5 645.5 1445.9 643.5 1447.4 644.8 C1448.9 646.1 1450.5 652.3 1451.9 655.6 C1453.2 658.8 1454.4 663.9 1455.4 664.5 C1456.5 665.1 1457.1 662.7 1458.1 659.1 C1459.2 655.6 1460.4 647.3 1461.7 643.0 C1463.1 638.7 1464.3 635.2 1466.2 633.2 C1468.1 631.1 1470.7 631.1 1473.4 630.8 C1476.1 630.5 1479.6 630.7 1482.3 631.4 C1485.0 632.0 1486.8 633.0 1489.5 634.9 C1492.2 636.9 1495.2 640.0 1498.5 643.0 C1501.7 646.0 1505.9 649.6 1509.2 652.9 C1512.5 656.2 1515.5 659.0 1518.2 662.7 C1520.9 666.5 1523.2 671.5 1525.3 675.3 C1527.4 679.0 1528.6 682.6 1530.7 685.1 C1532.8 687.7 1535.5 688.4 1537.9 690.5 C1540.3 692.6 1542.1 695.1 1545.1 697.7 C1548.0 700.2 1552.2 703.0 1555.8 705.7 C1559.4 708.4 1563.9 711.6 1566.6 713.8 C1569.2 716.0 1570.6 717.5 1571.9 719.2 C1573.3 720.8 1573.1 723.2 1574.6 723.7 C1576.1 724.1 1578.7 722.5 1580.9 721.9 C1583.1 721.3 1585.7 720.8 1588.1 720.1 C1590.5 719.3 1593.3 717.7 1595.2 717.4 C1597.2 717.1 1597.9 719.3 1599.7 718.3 C1601.5 717.2 1603.7 713.4 1606.0 711.1 C1608.2 708.9 1610.9 706.9 1613.2 704.8 C1615.4 702.7 1617.3 701.3 1619.4 698.6 C1621.5 695.9 1624.7 690.4 1625.7 688.7" fill="none" stroke="#02AE68" stroke-width="5.8" stroke-linejoin="round" stroke-linecap="butt"/>
<rect x="124.9" y="35.7" width="1501.3" height="1209.6" fill="none" stroke="#000" stroke-width="4.45"/>
<path d="M232.1 1245.3 V1233.9 M339.4 1245.3 V1221.6 M446.6 1245.3 V1233.9 M553.9 1245.3 V1221.6 M661.1 1245.3 V1233.9 M768.3 1245.3 V1221.6 M875.6 1245.3 V1233.9 M982.8 1245.3 V1221.6 M1090.1 1245.3 V1233.9 M1197.3 1245.3 V1221.6 M1304.5 1245.3 V1233.9 M1411.8 1245.3 V1221.6 M1519.0 1245.3 V1233.9" stroke="#000" stroke-width="4.4" fill="none"/>
<g font-family="'Liberation Serif', serif" font-size="50" text-anchor="middle" fill="#000" stroke="#fff" stroke-width="0.3">
<text x="124.9" y="1313">4000</text>
<text x="339.4" y="1313">3500</text>
<text x="553.9" y="1313">3000</text>
<text x="768.3" y="1313">2500</text>
<text x="982.8" y="1313">2000</text>
<text x="1197.3" y="1313">1500</text>
<text x="1411.8" y="1313">1000</text>
<text x="1626.2" y="1313">500</text>
</g>
<g font-family="'Liberation Serif', serif" font-size="55">
<text x="708.8" y="243.6" fill="#000">a</text>
<text x="708.7" y="452.9" fill="#FF0000">b</text>
<text x="708.8" y="521" fill="#1871C8">c</text>
<text x="708.2" y="611.9" fill="#00B050">d</text>
</g>
<text y="1406" font-family="'Liberation Serif', 'Noto Serif CJK SC', serif" font-size="63" fill="#000" stroke="#fff" stroke-width="0.35"><tspan x="603.0" textLength="29.4" lengthAdjust="spacingAndGlyphs" stroke-width="0">W</tspan><tspan x="635.0">a</tspan><tspan x="664.6">v</tspan><tspan x="697.7">e</tspan><tspan x="727.3">n</tspan><tspan x="758.7">u</tspan><tspan x="791.1" textLength="29.4" lengthAdjust="spacingAndGlyphs" stroke-width="0">m</tspan><tspan x="821.4">b</tspan><tspan x="854.5">e</tspan><tspan x="886.3" textLength="27.0" lengthAdjust="spacingAndGlyphs" stroke-width="0.8">r</tspan><tspan x="920.1" dy="-1.2" font-size="52" stroke-width="0">（</tspan><tspan dy="1.2"><tspan x="979.9">c</tspan><tspan x="1010.6" textLength="29.4" lengthAdjust="spacingAndGlyphs" stroke-width="0">m</tspan></tspan><tspan x="1041" dy="-28.6" font-size="44" textLength="25" lengthAdjust="spacingAndGlyphs">-</tspan><tspan x="1063.1" dy="4.6" font-size="44">1</tspan><tspan dy="22.8" x="1093.3" font-size="52" stroke-width="0">）</tspan></text>
<text y="0" transform="translate(76 969.5) rotate(-90)" font-family="'Liberation Serif', 'Noto Serif CJK SC', serif" font-size="63" fill="#000" stroke="#fff" stroke-width="0.35"><tspan x="1.0" textLength="29.4" lengthAdjust="spacingAndGlyphs" stroke-width="0">T</tspan><tspan x="33.5" textLength="27.0" lengthAdjust="spacingAndGlyphs" stroke-width="0.8">r</tspan><tspan x="64.4">a</tspan><tspan x="94.0">n</tspan><tspan x="128.8">s</tspan><tspan x="157.8" textLength="29.4" lengthAdjust="spacingAndGlyphs" stroke-width="0">m</tspan><tspan x="192.3" textLength="23.0" lengthAdjust="spacingAndGlyphs" stroke-width="0.8">i</tspan><tspan x="223.1" textLength="24.0" lengthAdjust="spacingAndGlyphs" stroke-width="0.8">t</tspan><tspan x="254.5" textLength="24.0" lengthAdjust="spacingAndGlyphs" stroke-width="0.8">t</tspan><tspan x="283.8">a</tspan><tspan x="313.4">n</tspan><tspan x="346.5">c</tspan><tspan x="377.9">e</tspan><tspan x="412.1" dy="-1.2" font-size="52" stroke-width="0">（</tspan><tspan dy="1.2"><tspan x="471.9">a</tspan><tspan x="502.2">.</tspan><tspan x="532.9">u</tspan><tspan x="564.9">.</tspan></tspan><tspan x="603.5" dy="-1.2" font-size="52" stroke-width="0">）</tspan></text>
</svg>
</body></html>
